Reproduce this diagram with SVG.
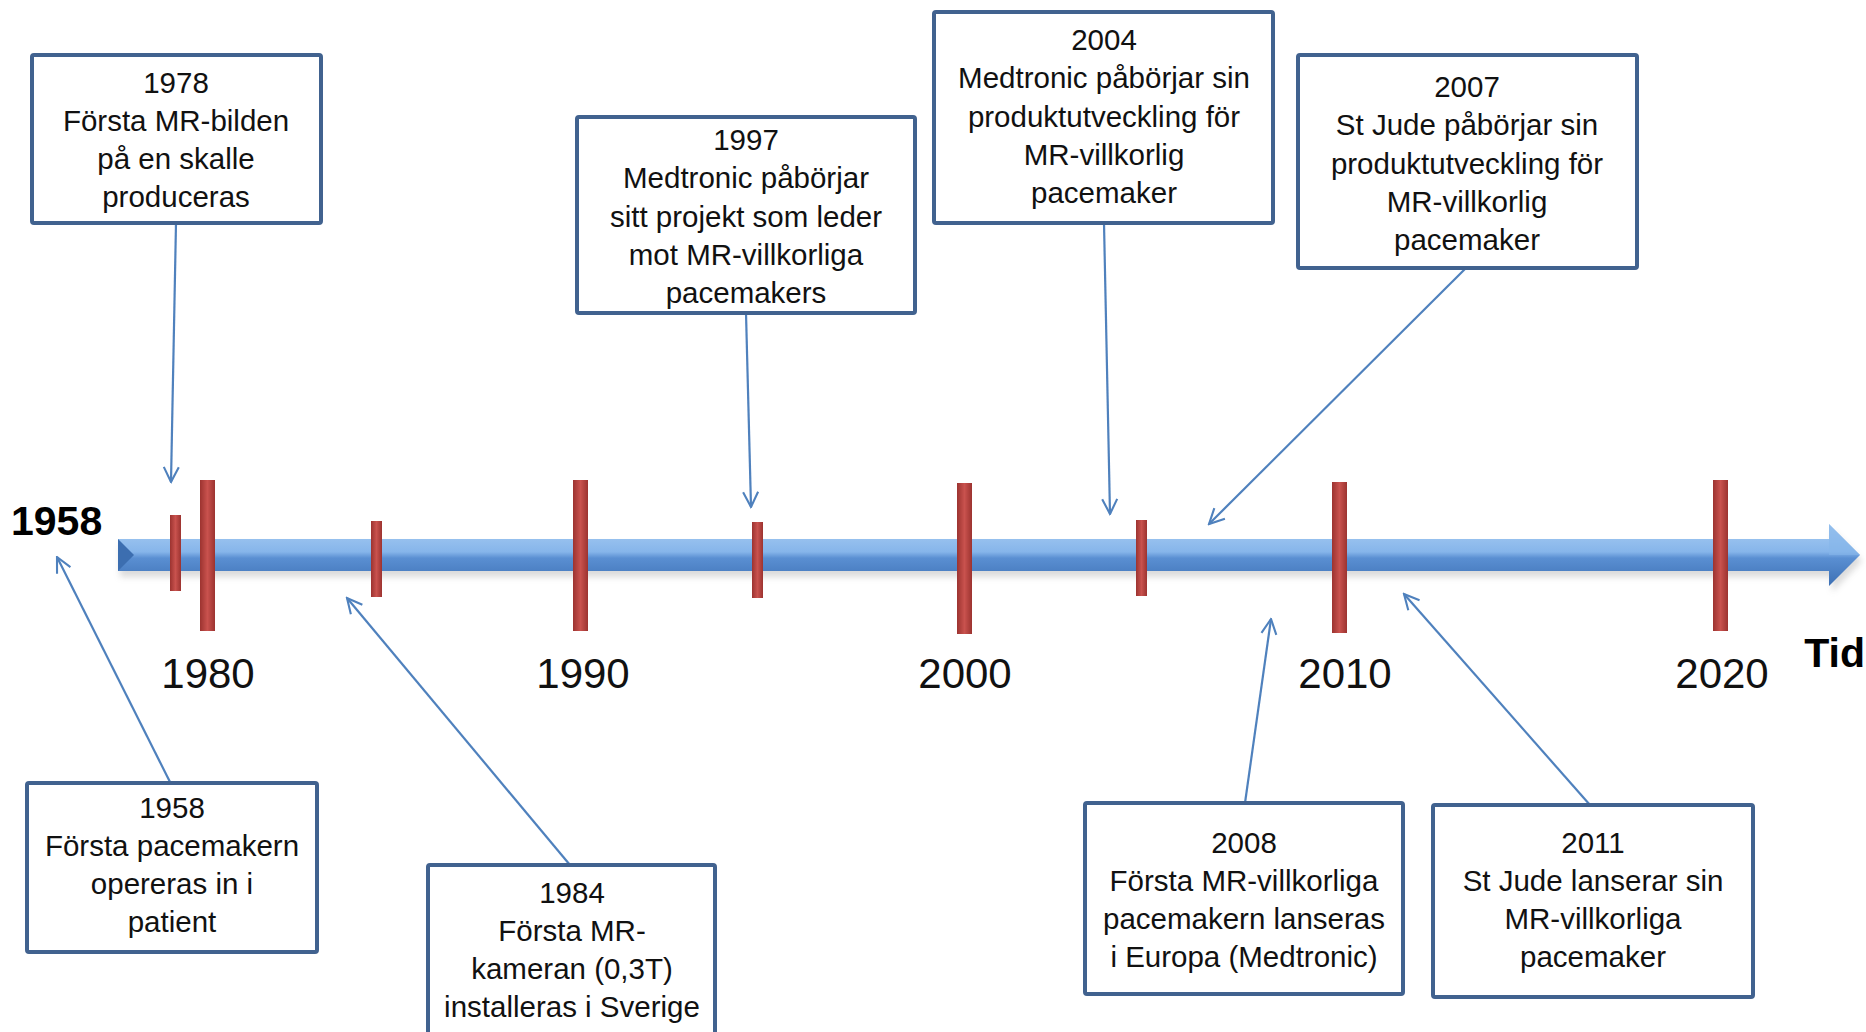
<svg xmlns="http://www.w3.org/2000/svg" width="1866" height="1032" viewBox="0 0 1866 1032">
<defs>
<style>
.box{fill:#ffffff;stroke:#41628f;stroke-width:4;}
.bt{font-family:"Liberation Sans",Arial,sans-serif;font-size:29.5px;fill:#111;text-anchor:middle;}
.yr{font-family:"Liberation Sans",Arial,sans-serif;font-size:42px;fill:#111;text-anchor:middle;}
.bold{font-family:"Liberation Sans",Arial,sans-serif;font-size:41px;font-weight:bold;fill:#000;}
.con{stroke:#4f81bd;stroke-width:2.2;fill:none;marker-end:url(#ah);}
.tick{fill:url(#tg);}
</style>
<linearGradient id="bar" x1="0" y1="0" x2="0" y2="1">
<stop offset="0" stop-color="#a9cdf3"/>
<stop offset="0.45" stop-color="#86b5ea"/>
<stop offset="0.55" stop-color="#5a8fd2"/>
<stop offset="1" stop-color="#3d70b4"/>
</linearGradient>
<linearGradient id="tg" x1="0" y1="0" x2="1" y2="0">
<stop offset="0" stop-color="#9c3330"/>
<stop offset="0.5" stop-color="#c9524e"/>
<stop offset="1" stop-color="#9c3330"/>
</linearGradient>
<filter id="sh" x="-5%" y="-50%" width="110%" height="200%">
<feGaussianBlur stdDeviation="3"/>
</filter>
<marker id="ah" viewBox="0 0 12 12" refX="11" refY="6" markerWidth="18" markerHeight="18" markerUnits="userSpaceOnUse" orient="auto">
<path d="M1,1 L11,6 L1,11" fill="none" stroke="#4f81bd" stroke-width="1.4"/>
</marker>
</defs>

<g id="axis">
<path d="M120,545 L1832,545 L1832,530 L1862,561 L1832,592 L1832,577 L120,577 Z" fill="#999" opacity="0.35" filter="url(#sh)"/>
<path d="M118,539 L1829,539 L1829,524 L1860,555 L1829,586 L1829,571 L118,571 Z" fill="url(#bar)"/>
<polygon points="118,539 134,555 118,571" fill="#3c6eb0"/>
<polygon points="1829,524 1860,555 1829,555" fill="#86b5ea" opacity="0.6"/>
</g>

<g id="ticks">
<rect class="tick" x="170" y="515" width="11" height="76"/>
<rect class="tick" x="200" y="480" width="15" height="151"/>
<rect class="tick" x="371" y="521" width="11" height="76"/>
<rect class="tick" x="573" y="480" width="15" height="151"/>
<rect class="tick" x="752" y="522" width="11" height="76"/>
<rect class="tick" x="957" y="483" width="15" height="151"/>
<rect class="tick" x="1136" y="520" width="11" height="76"/>
<rect class="tick" x="1332" y="482" width="15" height="151"/>
<rect class="tick" x="1713" y="480" width="15" height="151"/>
</g>

<g id="labels">
<text class="bold" x="11" y="535">1958</text>
<text class="yr" x="208" y="688">1980</text>
<text class="yr" x="583" y="688">1990</text>
<text class="yr" x="965" y="688">2000</text>
<text class="yr" x="1345" y="688">2010</text>
<text class="yr" x="1722" y="688">2020</text>
<text class="bold" x="1865" y="667" text-anchor="end">Tid</text>
</g>

<g id="connectors">
<line class="con" x1="176" y1="223" x2="171" y2="482"/>
<line class="con" x1="746" y1="313" x2="751" y2="507"/>
<line class="con" x1="1104" y1="223" x2="1110" y2="514"/>
<line class="con" x1="1466" y1="268" x2="1209" y2="524"/>
<line class="con" x1="170" y1="782" x2="57" y2="557"/>
<line class="con" x1="570" y1="865" x2="347" y2="598"/>
<line class="con" x1="1245" y1="803" x2="1271" y2="619"/>
<line class="con" x1="1590" y1="805" x2="1404" y2="594"/>
</g>

<g id="n1978">
<rect class="box" x="32" y="55" width="289" height="168" rx="2"/>
<text class="bt"><tspan x="176" y="93">1978</tspan><tspan x="176" y="131">Första MR-bilden</tspan><tspan x="176" y="169">på en skalle</tspan><tspan x="176" y="207">produceras</tspan></text>
</g>

<g id="n1997">
<rect class="box" x="577" y="117" width="338" height="196" rx="2"/>
<text class="bt"><tspan x="746" y="150">1997</tspan><tspan x="746" y="188">Medtronic påbörjar</tspan><tspan x="746" y="227">sitt projekt som leder</tspan><tspan x="746" y="265">mot MR-villkorliga</tspan><tspan x="746" y="303">pacemakers</tspan></text>
</g>

<g id="n2004">
<rect class="box" x="934" y="12" width="339" height="211" rx="2"/>
<text class="bt"><tspan x="1104" y="50">2004</tspan><tspan x="1104" y="88">Medtronic påbörjar sin</tspan><tspan x="1104" y="127">produktutveckling för</tspan><tspan x="1104" y="165">MR-villkorlig</tspan><tspan x="1104" y="203">pacemaker</tspan></text>
</g>

<g id="n2007">
<rect class="box" x="1298" y="55" width="339" height="213" rx="2"/>
<text class="bt"><tspan x="1467" y="97">2007</tspan><tspan x="1467" y="135">St Jude påbörjar sin</tspan><tspan x="1467" y="174">produktutveckling för</tspan><tspan x="1467" y="212">MR-villkorlig</tspan><tspan x="1467" y="250">pacemaker</tspan></text>
</g>

<g id="n1958">
<rect class="box" x="27" y="783" width="290" height="169" rx="2"/>
<text class="bt"><tspan x="172" y="818">1958</tspan><tspan x="172" y="856">Första pacemakern</tspan><tspan x="172" y="894">opereras in i</tspan><tspan x="172" y="932">patient</tspan></text>
</g>

<g id="n1984">
<rect class="box" x="428" y="865" width="287" height="190" rx="2"/>
<text class="bt"><tspan x="572" y="903">1984</tspan><tspan x="572" y="941">Första MR-</tspan><tspan x="572" y="979">kameran (0,3T)</tspan><tspan x="572" y="1017">installeras i Sverige</tspan></text>
</g>

<g id="n2008">
<rect class="box" x="1085" y="803" width="318" height="191" rx="2"/>
<text class="bt"><tspan x="1244" y="853">2008</tspan><tspan x="1244" y="891">Första MR-villkorliga</tspan><tspan x="1244" y="929">pacemakern  lanseras</tspan><tspan x="1244" y="967">i Europa (Medtronic)</tspan></text>
</g>

<g id="n2011">
<rect class="box" x="1433" y="805" width="320" height="192" rx="2"/>
<text class="bt"><tspan x="1593" y="853">2011</tspan><tspan x="1593" y="891">St Jude lanserar sin</tspan><tspan x="1593" y="929">MR-villkorliga</tspan><tspan x="1593" y="967">pacemaker</tspan></text>
</g>
</svg>
